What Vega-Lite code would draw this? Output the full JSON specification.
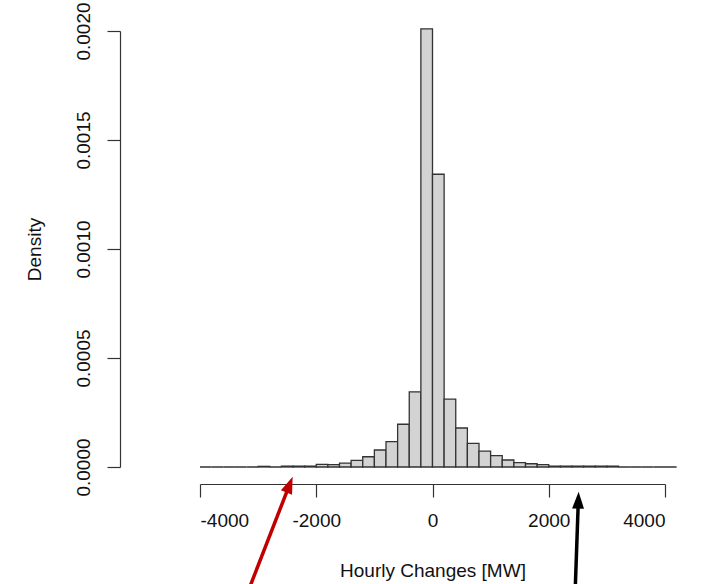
{
  "$schema": "https://vega.github.io/schema/vega-lite/v6.json",
  "autosize": "none",
  "width": 465,
  "height": 436,
  "padding": {"left": 200, "top": 31, "right": 39, "bottom": 117},
  "background": "white",
  "config": {
    "view": {"stroke": null},
    "font": "Liberation Sans",
    "axis": {"grid": false, "domainColor": "#333333", "tickColor": "#333333", "domainWidth": 1.2, "tickWidth": 1.2, "labelColor": "#111111", "titleColor": "#111111", "labelFont": "Liberation Sans", "titleFont": "Liberation Sans", "titleFontWeight": "normal"}
  },
  "title": {"text": "Histogram of Hourly Changes", "anchor": "end", "frame": "group", "fontSize": 26, "fontWeight": "bold", "color": "#7b1f1f", "baseline": "alphabetic", "offset": 33, "dx": -6, "font": "Liberation Sans"},
  "datasets": {
    "bins": [
      {"lo": -4000, "hi": -3800, "density": 0},
      {"lo": -3800, "hi": -3600, "density": 0},
      {"lo": -3600, "hi": -3400, "density": 0},
      {"lo": -3400, "hi": -3200, "density": 0},
      {"lo": -3200, "hi": -3000, "density": 0},
      {"lo": -3000, "hi": -2800, "density": 0.000003},
      {"lo": -2800, "hi": -2600, "density": 0},
      {"lo": -2600, "hi": -2400, "density": 0.000004},
      {"lo": -2400, "hi": -2200, "density": 0.000004},
      {"lo": -2200, "hi": -2000, "density": 0.000004},
      {"lo": -2000, "hi": -1800, "density": 0.000012},
      {"lo": -1800, "hi": -1600, "density": 0.000011},
      {"lo": -1600, "hi": -1400, "density": 0.000018},
      {"lo": -1400, "hi": -1200, "density": 0.00003},
      {"lo": -1200, "hi": -1000, "density": 0.000047},
      {"lo": -1000, "hi": -800, "density": 0.000078},
      {"lo": -800, "hi": -600, "density": 0.000116},
      {"lo": -600, "hi": -400, "density": 0.000196},
      {"lo": -400, "hi": -200, "density": 0.000345},
      {"lo": -200, "hi": 0, "density": 0.00201},
      {"lo": 0, "hi": 200, "density": 0.001343},
      {"lo": 200, "hi": 400, "density": 0.000311},
      {"lo": 400, "hi": 600, "density": 0.000179},
      {"lo": 600, "hi": 800, "density": 0.000108},
      {"lo": 800, "hi": 1000, "density": 0.000073},
      {"lo": 1000, "hi": 1200, "density": 0.000052},
      {"lo": 1200, "hi": 1400, "density": 0.000032},
      {"lo": 1400, "hi": 1600, "density": 0.00002},
      {"lo": 1600, "hi": 1800, "density": 0.000015},
      {"lo": 1800, "hi": 2000, "density": 0.000011},
      {"lo": 2000, "hi": 2200, "density": 0.000004},
      {"lo": 2200, "hi": 2400, "density": 0.000004},
      {"lo": 2400, "hi": 2600, "density": 0.000004},
      {"lo": 2600, "hi": 2800, "density": 0.000004},
      {"lo": 2800, "hi": 3000, "density": 0.000004},
      {"lo": 3000, "hi": 3200, "density": 0.000004},
      {"lo": 3200, "hi": 3400, "density": 0},
      {"lo": 3400, "hi": 3600, "density": 0},
      {"lo": 3600, "hi": 3800, "density": 0},
      {"lo": 3800, "hi": 4000, "density": 0},
      {"lo": 4000, "hi": 4200, "density": 0}
    ],
    "arrows": [
      {"arrow": "red", "x0": -3230, "y0": -0.00061, "x1": -2459, "y1": -0.0000807, "angle": 21.2},
      {"arrow": "black", "x0": 2449, "y0": -0.00061, "x1": 2509, "y1": -0.000152, "angle": 2}
    ]
  },
  "layer": [
    {
      "data": {"name": "bins"},
      "mark": {"type": "rect", "fill": "#d3d3d3", "stroke": "#333333", "strokeWidth": 1.3, "clip": false},
      "encoding": {
        "x": {"field": "lo", "type": "quantitative", "scale": {"domain": [-4000, 4000], "nice": false, "zero": false},
          "axis": {"title": "Hourly Changes [MW]", "values": [-4000, -2000, 0, 2000, 4000], "labelExpr": "'' + datum.value", "offset": 17, "tickSize": 13, "labelFontSize": 19, "titleFontSize": 19, "labelPadding": 14, "titlePadding": 31}},
        "x2": {"field": "hi"},
        "y": {"field": "density", "type": "quantitative", "scale": {"domain": [0, 0.002], "nice": false},
          "axis": {"title": "Density", "values": [0, 0.0005, 0.001, 0.0015, 0.002], "format": ".4f", "offset": 80, "tickSize": 13, "labelFontSize": 19, "titleFontSize": 19, "labelAngle": -90, "labelAlign": "center", "labelBaseline": "bottom", "labelPadding": 14, "titlePadding": 30}},
        "y2": {"datum": 0}
      }
    },
    {
      "data": {"name": "arrows"},
      "mark": {"type": "rule", "strokeWidth": 3.5, "strokeCap": "butt", "clip": false},
      "encoding": {
        "x": {"field": "x0", "type": "quantitative"},
        "y": {"field": "y0", "type": "quantitative"},
        "x2": {"field": "x1"},
        "y2": {"field": "y1"},
        "color": {"field": "arrow", "type": "nominal", "scale": {"domain": ["red", "black"], "range": ["#c00000", "#000000"]}, "legend": null}
      }
    },
    {
      "data": {"name": "arrows"},
      "mark": {"type": "point", "shape": "M0,-1L0.7,1L-0.7,1Z", "filled": true, "size": 289, "opacity": 1, "clip": false},
      "encoding": {
        "x": {"field": "x1", "type": "quantitative"},
        "y": {"field": "y1", "type": "quantitative"},
        "angle": {"field": "angle", "type": "quantitative", "scale": null},
        "color": {"field": "arrow", "type": "nominal", "scale": {"domain": ["red", "black"], "range": ["#c00000", "#000000"]}, "legend": null}
      }
    }
  ]
}
